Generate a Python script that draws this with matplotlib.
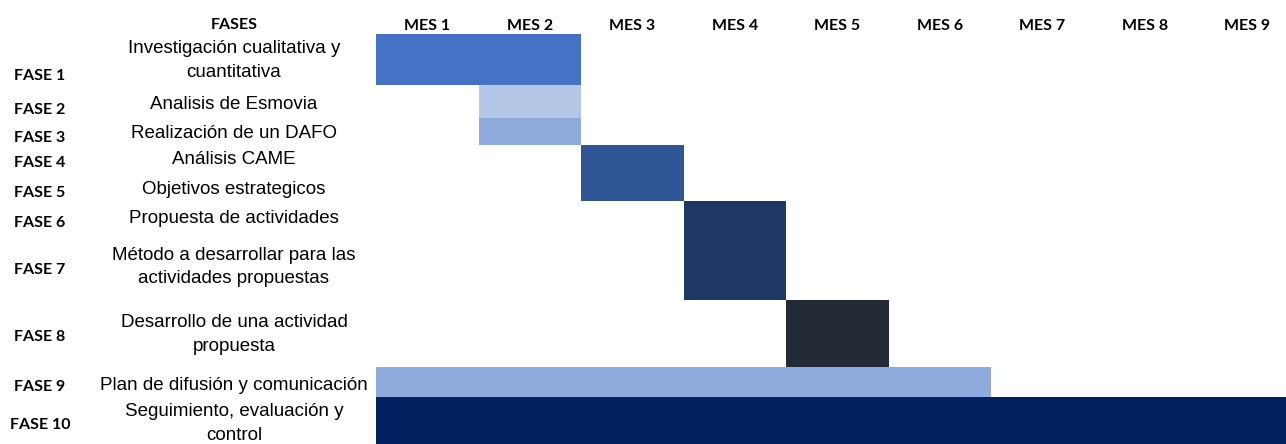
import matplotlib
matplotlib.use("Agg")
import matplotlib.pyplot as plt
from matplotlib.patches import Rectangle

# ---- data ----
phases = ["FASE 1", "FASE 2", "FASE 3", "FASE 4", "FASE 5",
          "FASE 6", "FASE 7", "FASE 8", "FASE 9", "FASE 10"]
descriptions = ["Investigación cualitativa y\ncuantitativa",
                "Analisis de Esmovia",
                "Realización de un DAFO",
                "Análisis CAME",
                "Objetivos estrategicos",
                "Propuesta de actividades",
                "Método a desarrollar para las\nactividades propuestas",
                "Desarrollo de una actividad\npropuesta",
                "Plan de difusión y comunicación",
                "Seguimiento, evaluación y\ncontrol"]
start_month = [0, 1, 1, 2, 2, 3, 3, 4, 0, 0]
duration = [2, 1, 1, 1, 1, 1, 1, 1, 6, 9]
months = ["MES 1", "MES 2", "MES 3", "MES 4", "MES 5",
          "MES 6", "MES 7", "MES 8", "MES 9"]
header_left = "FASES"

# ---- layout / style ----
colors = ["#4472C4", "#B4C7E7", "#8FAADC", "#2F5597", "#2F5597",
          "#203864", "#203864", "#222A35", "#8FAADC", "#002060"]
row_edges = [34, 85, 118, 145, 173, 201, 232, 300, 367, 397, 450]
label_dy = [16, 8, 6, 4, 6, 6, 4, 3, 5, 1]
desc_dy = [1, 3, 2, 0, 2, 2, 1, 1, 3, 0]
W, H = 1286, 444
x0, colw = 376, 102.5
label_font = "Lato"
desc_font = "Liberation Sans"

fig = plt.figure(figsize=(W / 100, H / 100), dpi=100)
fig.patch.set_facecolor("white")

# text axes in pixel coordinates
axt = fig.add_axes([0, 0, 1, 1])
axt.set_xlim(0, W)
axt.set_ylim(H, 0)
axt.axis("off")

# bar axes in month coordinates
axb = fig.add_axes([x0 / W, 0, len(months) * colw / W, 1])
axb.set_xlim(0, len(months))
axb.set_ylim(H, 0)
axb.axis("off")

for i in range(len(phases)):
    top = row_edges[i]
    bot = row_edges[i + 1]
    axb.add_patch(Rectangle((start_month[i], top), duration[i], bot - top,
                            facecolor=colors[i], edgecolor="none", lw=0))
    yc = (top + bot) / 2
    axt.text(40, yc + label_dy[i], phases[i], ha="center", va="center",
             fontsize=11.5, fontweight="bold", family=label_font, color="black")
    axt.text(234, yc + desc_dy[i], descriptions[i], ha="center", va="center",
             fontsize=13.5, family=desc_font, color="black", linespacing=1.5)

axt.text(234, 25, header_left, ha="center", va="center",
         fontsize=11.5, fontweight="bold", family=label_font, color="black")
for j, m in enumerate(months):
    axb.text(j + 0.5, 26, m, ha="center", va="center",
             fontsize=11.5, fontweight="bold", family=label_font, color="black")

fig.savefig("out.png", dpi=100, facecolor="white")
